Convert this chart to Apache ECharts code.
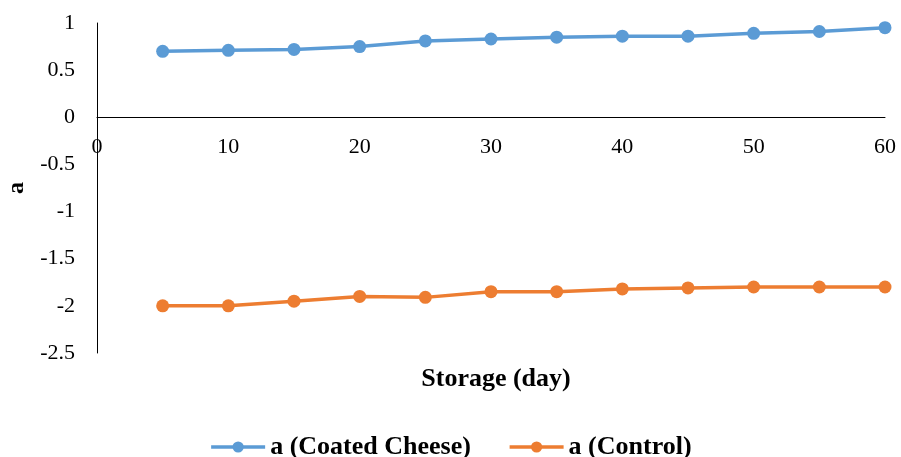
<!DOCTYPE html>
<html>
<head>
<meta charset="utf-8">
<script src="https://cdn.jsdelivr.net/npm/echarts@6/dist/echarts.min.js"></script>
<style>html,body{margin:0;padding:0;background:#fff}#c{width:901px;height:457px}</style>
</head>
<body>
<div id="c"></div>
<script>
var days = [5, 10, 15, 20, 25, 30, 35, 40, 45, 50, 55, 60];
var coated = [0.70, 0.71, 0.72, 0.75, 0.81, 0.83, 0.85, 0.86, 0.86, 0.89, 0.91, 0.95];
var control = [-2.00, -2.00, -1.95, -1.90, -1.91, -1.85, -1.85, -1.82, -1.81, -1.80, -1.80, -1.80];
var seriesNames = ['a (Coated Cheese)', 'a (Control)'];
var xTitle = 'Storage (day)';
var yTitle = 'a';

function pairs(vals) { return days.map(function (d, i) { return [d, vals[i]]; }); }

var font = 'Liberation Serif, Times New Roman, serif';
var gridTop = 23, gridBottom = 104, H = 457;
var yMin = -2.5, yMax = 1;
var plotH = H - gridTop - gridBottom;
var zeroOffset = -plotH * (0 - yMin) / (yMax - yMin);

var chart = echarts.init(document.getElementById('c'));
chart.setOption({
  animation: false,
  backgroundColor: '#fff',
  textStyle: { fontFamily: font },
  grid: { left: 97, right: 16, top: gridTop, bottom: gridBottom, containLabel: false, outerBoundsMode: 'none' },
  title: {
    text: xTitle, left: 491, top: 361, textAlign: 'center',
    textStyle: { fontFamily: font, fontWeight: 'bold', fontSize: 26, color: '#000' }
  },
  legend: {
    data: seriesNames, left: 'center', top: 429, itemWidth: 54, itemHeight: 14, itemGap: 37,
    lineStyle: { width: 3.5 },
    textStyle: { fontFamily: font, fontWeight: 'bold', fontSize: 26, color: '#000' }
  },
  xAxis: {
    type: 'value', min: 0, max: 60, interval: 10,
    offset: zeroOffset,
    axisLine: { onZero: false, lineStyle: { color: '#000', width: 1 } },
    axisTick: { show: false },
    splitLine: { show: false },
    axisLabel: { color: '#000', fontSize: 22, fontFamily: font, margin: 19 }
  },
  yAxis: {
    type: 'value', min: yMin, max: yMax, interval: 0.5,
    name: yTitle, nameLocation: 'middle', nameRotate: 90, nameGap: 66,
    nameTextStyle: { fontFamily: font, fontWeight: 'bold', fontSize: 24, color: '#000' },
    axisLine: { show: true, lineStyle: { color: '#000', width: 1 } },
    axisTick: { show: false },
    splitLine: { show: false },
    axisLabel: { color: '#000', fontSize: 22, fontFamily: font, margin: 22 }
  },
  series: [
    { name: seriesNames[0], type: 'line', data: pairs(coated), symbol: 'circle', symbolSize: 13,
      lineStyle: { width: 3.5, color: '#5B9BD5' }, itemStyle: { color: '#5B9BD5' } },
    { name: seriesNames[1], type: 'line', data: pairs(control), symbol: 'circle', symbolSize: 13,
      lineStyle: { width: 3.5, color: '#ED7D31' }, itemStyle: { color: '#ED7D31' } }
  ]
});
</script>
</body>
</html>
